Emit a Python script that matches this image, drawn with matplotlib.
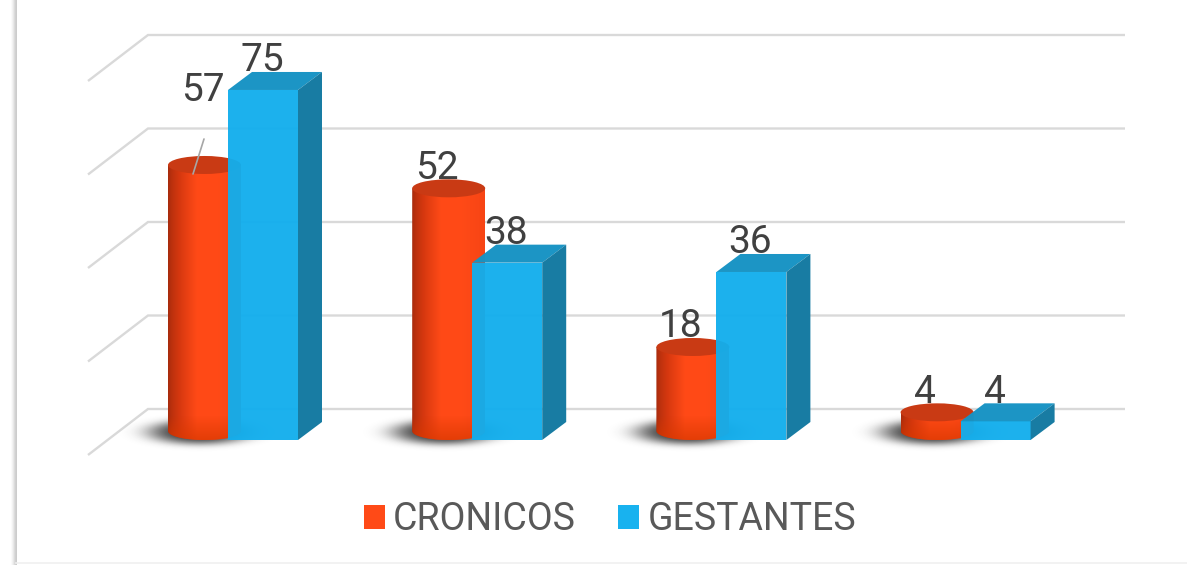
import numpy as np
import matplotlib
matplotlib.use("Agg")
import matplotlib.pyplot as plt
from matplotlib.patches import Ellipse, Polygon, PathPatch, Patch
from matplotlib.path import Path

plt.rcParams['font.family'] = ['Roboto', 'DejaVu Sans']

cronicos = [57, 52, 18, 4]
gestantes = [75, 38, 36, 4]
series_names = ["CRONICOS", "GESTANTES"]
grid_values = [0, 20, 40, 60, 80]

W, H = 1187, 565
PX = 4.667          # pixels per unit
BASE_PY = 440       # pixel row of value 0 on the front of the bars
STEP = 244.2

fig = plt.figure(figsize=(W / 100, H / 100), dpi=100)
ax = fig.add_axes([0, 0, 1, 1])
ax.set_xlim(0, W)
ax.set_ylim(-(H - BASE_PY) / PX, BASE_PY / PX)
ax.axis('off')

# page edge
edge = np.ones((1, 6, 4))
edge[..., :3] = 0.8
edge[..., 3] = [0.1, 0.25, 0.45, 0.7, 0.9, 1.0]
ax.imshow(edge, extent=(10.5, 16.5, -(H - BASE_PY) / PX, BASE_PY / PX), aspect='auto', zorder=1)
ax.plot([16, W], [-(H - 2 - BASE_PY) / PX] * 2, color='#f0f0f0', lw=1.2, zorder=1)

# floor / wall gridlines
for g in grid_values:
    yb = 31 / PX + g * 93.5 / 20 / PX
    ax.plot([88, 148, 1125], [yb - 46 / PX, yb, yb], color='#d9d9d9', lw=1.7, zorder=2,
            solid_joinstyle='miter', solid_capstyle='butt')

red_ramp = np.array([[0.66, 0.17, 0.05], [0.84, 0.22, 0.06], [1.0, 0.29, 0.09],
                     [1.0, 0.29, 0.09], [0.97, 0.27, 0.08]])
cyl_w = 73
cyl_h = 18
bar_w = 70
dx3, dy3 = 24, 18
base_v = 9 / PX

# (dx, dy) of the value labels from the mark, in pixels
cron_offset = [(-2, 74), (-12, 20), (-12, 20), (-12, 20)]

for i, (c, g) in enumerate(zip(cronicos, gestantes)):
    x0 = 168 + STEP * i
    xc = x0 + cyl_w / 2

    # blurred shadow on the floor
    xx, yy = np.meshgrid(np.linspace(x0 - 70, x0 + 140, 210), np.linspace(-24, 38, 62) / PX)
    r = ((xx - (x0 + 32)) / 57) ** 2 + ((yy - 8 / PX) / (14 / PX)) ** 2
    rgba = np.zeros(xx.shape + (4,))
    rgba[..., :3] = 0.15
    rgba[..., 3] = 0.9 * np.exp(-1.5 * r ** 1.8)
    ax.imshow(rgba, extent=(x0 - 70, x0 + 140, 38 / PX, -24 / PX), aspect='auto', zorder=3,
              interpolation='bilinear')

    # cylinder side
    t = np.linspace(np.pi, 2 * np.pi, 40)
    arc_x = xc + cyl_w / 2 * np.cos(t)
    arc_y = base_v + cyl_h / 2 / PX * np.sin(t)
    verts = list(zip(arc_x, arc_y)) + [(x0 + cyl_w, base_v + c), (x0, base_v + c)]
    body = PathPatch(Path(verts + [verts[0]], closed=True), transform=ax.transData,
                     fc='none', ec='none')
    pos = np.linspace(0, 1, len(red_ramp))
    u = np.linspace(0, 1, 73) ** 0.75
    grad = np.stack([np.interp(u, pos, red_ramp[:, k]) for k in range(3)], axis=-1)[None, :, :]
    im = ax.imshow(grad, extent=(x0, x0 + cyl_w, base_v - 2, base_v + c), aspect='auto', zorder=4)
    im.set_clip_path(body)

    # darker reflection near the foot of the cylinder
    foot = np.zeros((30, 2, 4))
    foot[..., 0:3] = [0.85, 0.22, 0.0]
    foot[..., 3] = np.linspace(0.0, 0.7, 30)[:, None]
    top_foot = min(base_v + 15 / PX, base_v + c)
    im2 = ax.imshow(foot, extent=(x0, x0 + cyl_w, base_v - 2, top_foot), aspect='auto', zorder=4.1)
    im2.set_clip_path(body)

    # cylinder top
    ax.add_patch(Ellipse((xc, base_v + c), cyl_w, cyl_h / PX, fc='#c93a14', ec='none', zorder=4.2))

    # box
    bx = x0 + 60
    ax.bar(bx, g, width=bar_w, align='edge', color='#12aeed', alpha=0.96, zorder=5)
    ax.add_patch(Polygon([(bx, g), (bx + bar_w, g), (bx + bar_w + dx3, g + dy3 / PX),
                          (bx + dx3, g + dy3 / PX)], fc='#1793c4', ec='none', alpha=0.98, zorder=5))
    ax.add_patch(Polygon([(bx + bar_w, 0), (bx + bar_w + dx3, dy3 / PX),
                          (bx + bar_w + dx3, g + dy3 / PX), (bx + bar_w, g)],
                         fc='#187ca3', ec='none', zorder=5))

    # value labels
    ox, oy = cron_offset[i]
    ax.annotate(str(c), xy=(xc, base_v + c), xytext=(ox, oy), textcoords='offset pixels',
                ha='center', va='center', fontsize=28, color='#404040', zorder=6)
    ax.annotate(str(g), xy=(bx + bar_w / 2, g), xytext=(-1, 29), textcoords='offset pixels',
                ha='center', va='center', fontsize=28, color='#404040', zorder=6)

# leader line of the first label
ax.annotate('', xy=(193, base_v + cronicos[0] - 9 / PX), xytext=(204, base_v + cronicos[0] + 26 / PX),
            arrowprops=dict(arrowstyle='-', color='#a6a6a6', lw=1.2, shrinkA=0, shrinkB=0), zorder=6)

handles = [Patch(fc='#ff4a17', ec='none'), Patch(fc='#18b2ef', ec='none')]
ax.legend(handles, series_names, loc='center', bbox_to_anchor=(610 / W, 1 - 520 / H),
          ncol=2, frameon=False, fontsize=27, labelcolor='#595959', handlelength=0.57,
          handleheight=0.6, handletextpad=0.22, columnspacing=1.12)

ax.set_xlim(0, W)
ax.set_ylim(-(H - BASE_PY) / PX, BASE_PY / PX)
fig.savefig('out.png', dpi=100)
